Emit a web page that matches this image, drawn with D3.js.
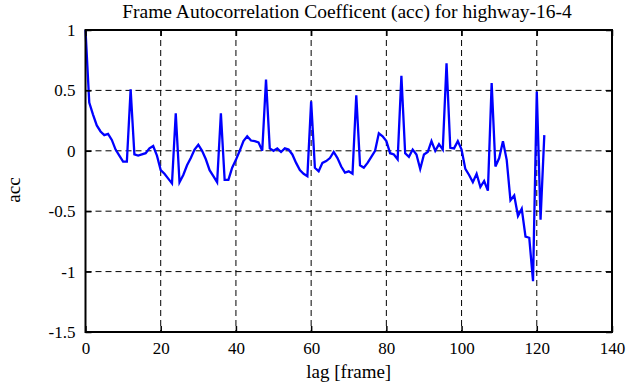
<!DOCTYPE html>
<html>
<head>
<meta charset="utf-8">
<script src="https://cdn.jsdelivr.net/npm/d3@7"></script>
<style>
  html, body { margin: 0; padding: 0; background: #fff; }
  svg { display: block; }
  svg text { font-family: "Liberation Serif", "DejaVu Serif", serif; fill: #000; }
</style>
</head>
<body>
<div id="chart"></div>
<script>
// ---- data ----
const titleText = "Frame Autocorrelation Coefficent (acc) for highway-16-4";
const xLabelText = "lag [frame]";
const yLabelText = "acc";
const xTicks = [0, 20, 40, 60, 80, 100, 120, 140];
const yTicks = [1, 0.5, 0, -0.5, -1, -1.5];
// acc value for lag 0,1,2,...,122
const accValues = [
  1.00, 0.40, 0.30, 0.21, 0.16, 0.13, 0.14, 0.09, 0.01, -0.04,
  -0.09, -0.09, 0.51, -0.03, -0.04, -0.03, -0.02, 0.02, 0.04, -0.04,
  -0.16, -0.19, -0.23, -0.27, 0.31, -0.26, -0.20, -0.12, -0.06, 0.01,
  0.05, 0.00, -0.07, -0.16, -0.21, -0.26, 0.31, -0.24, -0.24, -0.14,
  -0.075, 0.00, 0.08, 0.12, 0.085, 0.08, 0.07, 0.00, 0.59, 0.02,
  0.00, 0.02, -0.01, 0.02, 0.01, -0.03, -0.10, -0.16, -0.19, -0.21,
  0.41, -0.14, -0.17, -0.10, -0.085, -0.06, -0.01, -0.06, -0.13, -0.18,
  -0.17, -0.19, 0.46, -0.12, -0.14, -0.10, -0.05, 0.00, 0.145, 0.12,
  0.08, -0.02, -0.03, -0.07, 0.62, -0.02, -0.05, 0.01, -0.03, -0.15,
  -0.03, -0.01, 0.08, 0.00, 0.055, 0.01, 0.725, 0.025, 0.02, 0.08,
  0.01, -0.15, -0.20, -0.26, -0.19, -0.30, -0.25, -0.33, 0.56, -0.13,
  -0.06, 0.08, -0.075, -0.41, -0.37, -0.54, -0.48, -0.71, -0.72, -1.08,
  0.49, -0.57, 0.13
];
const lags = accValues.map((_, i) => i);

// ---- layout ----
const W = 635, H = 387;
const plot = { left: 85.5, right: 612, top: 30, bottom: 332 };
const serif = '"Liberation Serif", "DejaVu Serif", serif';

const svg = d3.select("#chart").append("svg")
  .attr("width", W).attr("height", H);

const x = d3.scaleLinear().domain([0, 140]).range([plot.left, plot.right]);
const y = d3.scaleLinear().domain([-1.5, 1]).range([plot.bottom, plot.top]);

// grid
const grid = svg.append("g").attr("stroke", "#000").attr("stroke-width", 1)
  .attr("stroke-dasharray", "6,4").attr("fill", "none");
xTicks.filter(t => t > 0 && t < 140).forEach(t => {
  grid.append("line").attr("x1", x(t)).attr("x2", x(t))
    .attr("y1", plot.top).attr("y2", plot.bottom);
});
yTicks.filter(t => t > -1.5 && t < 1).forEach(t => {
  grid.append("line").attr("x1", plot.left).attr("x2", plot.right)
    .attr("y1", y(t)).attr("y2", y(t));
});

// data line
const line = d3.line().x((d, i) => x(lags[i])).y(d => y(d));
svg.append("path").datum(accValues)
  .attr("d", line)
  .attr("fill", "none")
  .attr("stroke", "#0000ff")
  .attr("stroke-width", 2.3)
  .attr("stroke-linejoin", "miter")
  .attr("stroke-miterlimit", 4);

// axes (inward ticks on all sides)
const tickLen = 6;
const axB = d3.axisBottom(x).tickValues(xTicks).tickSizeInner(-tickLen).tickSizeOuter(0).tickPadding(10).tickFormat(d3.format("d"));
const axT = d3.axisTop(x).tickValues(xTicks).tickSizeInner(-tickLen).tickSizeOuter(0).tickFormat("");
const axL = d3.axisLeft(y).tickValues(yTicks).tickSizeInner(-tickLen).tickSizeOuter(0).tickPadding(10).tickFormat(d => String(d));
const axR = d3.axisRight(y).tickValues(yTicks).tickSizeInner(-tickLen).tickSizeOuter(0).tickFormat("");

function styleAxis(g) {
  g.attr("font-family", serif).attr("font-size", 17);
  g.select(".domain").remove();
  g.selectAll(".tick line").attr("stroke", "#000").attr("stroke-width", 1.5);
  g.selectAll(".tick text").attr("font-family", serif).attr("font-size", 17).attr("fill", "#000");
}
svg.append("g").attr("transform", `translate(0,${plot.bottom})`).call(axB).call(styleAxis);
svg.append("g").attr("transform", `translate(0,${plot.top})`).call(axT).call(styleAxis);
svg.append("g").attr("transform", `translate(${plot.left},0)`).call(axL).call(styleAxis);
svg.append("g").attr("transform", `translate(${plot.right},0)`).call(axR).call(styleAxis);

// frame
svg.append("rect")
  .attr("x", plot.left).attr("y", plot.top)
  .attr("width", plot.right - plot.left).attr("height", plot.bottom - plot.top)
  .attr("fill", "none").attr("stroke", "#000").attr("stroke-width", 2);

// texts
svg.append("text").attr("x", 347).attr("y", 18)
  .attr("text-anchor", "middle").style("font-size", "19.5px").text(titleText);
svg.append("text").attr("x", (plot.left + plot.right) / 2).attr("y", 378)
  .attr("text-anchor", "middle").style("font-size", "19px").text(xLabelText);
svg.append("text")
  .attr("transform", `translate(20,190) rotate(-90)`)
  .attr("text-anchor", "middle").style("font-size", "19px").text(yLabelText);
</script>
</body>
</html>
